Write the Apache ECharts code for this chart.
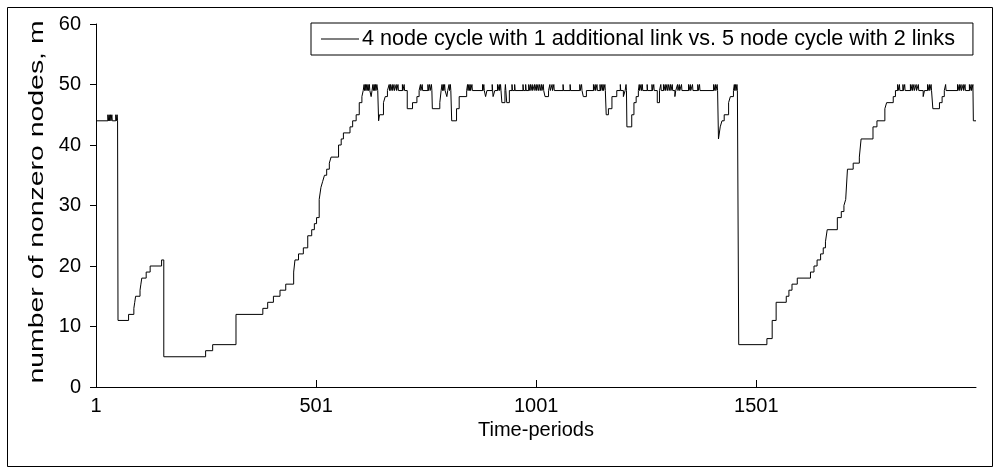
<!DOCTYPE html>
<html>
<head>
<meta charset="utf-8">
<script src="https://cdn.jsdelivr.net/npm/echarts@6/dist/echarts.min.js"></script>
<style>
html,body{margin:0;padding:0;background:#fff;}
#chart{width:996px;height:470px;}
</style>
</head>
<body>
<div id="chart"></div>
<script>
// Step change points [time-period, number of nonzero nodes]
const initialPhase = [[1,44],[28,45],[29,44],[31,45],[32,44],[34,45],[35,44],[37,45],[38,44],[46,45],[47,44],[49,45],[50,44],
  [51,11],[75,12],[87,13],[89,14],[91,15],[101,16],[103,17],[105,18],[115,19],[124,20],[150,21],[155,5],[250,6],[266,7]];
const firstClimb = [[319,12],[380,13],[391,14],[404,15],[419,16],[432,17],[450,19],[453,21],[461,22],[472,23],[482,25],[491,26],
  [497,27],[502,28],[508,31],[512,33],[516,34],[520,35],[525,36],[531,37],[535,38],[552,40],[558,41],[563,42],[578,43],[584,44],
  [592,45],[599,47],[605,48]];
const plateau = [[608,49],[610,50],[611,49],[613,50],[614,49],[616,50],[617,49],[619,50],[620,49],[622,50],[623,49],[626,48],[628,49],
  [630,50],[631,49],[633,50],[634,49],[636,50],[637,49],[639,50],[641,49],
  [643,44],[645,45],[654,47],[658,48],[663,49],
  [667,50],[668,49],[670,50],[671,49],[674,50],[675,49],[678,50],[679,49],[683,50],[684,49],[687,50],[688,49],[697,50],[698,49],[701,50],[702,49],
  [708,46],[720,47],[730,48],[735,49],
  [738,50],[739,49],[742,50],[743,49],[755,50],[756,49],[759,50],[760,49],[763,50],[764,49],
  [765,46],[782,47],[785,49],
  [787,50],[788,49],[790,50],[791,49],[793,50],[794,49],[798,48],[800,49],[803,50],[804,49],[806,50],[807,49],
  [809,44],[820,46],[826,48],[843,49],
  [845,50],[846,49],[848,50],[849,49],[851,50],[852,49],[855,50],[856,49],
  [879,50],[880,49],[882,50],[883,49],[886,48],[889,49],
  [901,50],[902,49],[903,48],[907,49],
  [913,50],[914,49],[917,50],[918,49],[920,50],[921,49],[923,47],[930,49],[931,50],[932,49],[934,47],[940,49],
  [946,50],[947,49],[952,50],[953,49],
  [971,50],[972,49],[977,50],[978,49],[984,50],[985,49],[988,50],[989,49],[992,50],[993,49],[997,50],[998,49],[1001,50],[1002,49],
  [1005,50],[1006,49],[1009,50],[1010,49],[1013,50],[1014,49],[1017,50],[1018,49],[1021,48],[1029,49],
  [1032,50],[1033,49],[1037,50],[1038,49],[1041,50],[1042,49],
  [1062,50],[1063,49],[1078,50],[1079,49],
  [1100,50],[1101,49],[1104,50],[1105,49],[1108,48],[1115,49],
  [1131,50],[1132,49],[1135,50],[1136,49],[1139,50],[1140,49],
  [1146,50],[1147,49],[1150,50],[1151,49],[1153,50],[1154,49],[1157,50],[1158,49],
  [1160,45],[1165,46],[1173,48],[1184,49],[1192,50],[1193,49],[1199,48],[1203,49],[1205,50],[1206,49],
  [1207,43],[1218,45],[1223,47],[1228,48],[1233,49],
  [1235,50],[1236,49],[1239,50],[1240,49],[1242,50],[1243,49],[1253,50],[1254,49],[1264,50],[1265,49],[1268,50],[1269,49],
  [1276,47],[1281,49],
  [1284,50],[1285,49],[1290,50],[1291,49],[1294,50],[1295,49],[1298,50],[1299,49],[1302,50],[1303,49],[1306,50],[1307,49],[1310,50],[1311,49],
  [1316,48],[1318,49],
  [1322,50],[1323,49],[1326,50],[1327,49],[1331,50],[1332,49],
  [1347,50],[1348,49],[1351,50],[1352,49],[1356,50],[1357,49],
  [1368,50],[1369,49],[1372,50],[1373,49],
  [1404,50],[1405,49],[1408,50],[1409,49],[1412,50],[1413,49],
  [1415,41],[1419,43],[1423,44],[1428,45],[1438,47],[1442,48],[1449,49],[1451,50],[1452,49],[1454,50],[1455,49],[1457,50],[1458,49]];
const secondClimb = [[1461,7],[1525,8],[1537,11],[1546,14],[1569,15],[1575,16],[1582,17],[1594,18],[1624,19],[1632,20],[1639,21],
  [1647,22],[1653,23],[1658,24],[1662,26],[1685,28],[1694,29],[1700,30],[1704,31],[1708,36],[1721,37],[1735,38],[1739,41],
  [1766,43],[1775,44],[1793,46],[1797,47],[1812,48],[1817,49]];
const finalPlateau = [[1820,49],[1822,50],[1823,49],[1826,50],[1827,49],[1834,50],[1835,49],[1838,50],[1839,49],[1851,50],[1852,49],
  [1855,50],[1856,49],[1859,50],[1860,49],[1864,50],[1865,49],[1869,50],[1870,49],[1880,48],[1883,49],[1890,50],[1891,49],
  [1894,50],[1895,49],[1898,50],[1899,49],
  [1902,46],[1917,47],[1923,48],[1928,49],[1931,50],[1932,49],[1958,50],[1959,49],[1962,50],[1963,49],[1966,50],[1967,49],
  [1971,50],[1972,49],[1975,50],[1976,49],[1985,50],[1986,49],[1989,50],[1990,49],[1993,50],[1994,44],[2000,44]];

const xTickValues = [1, 501, 1001, 1501];
const seriesName = '4 node cycle with 1 additional link vs. 5 node cycle with 2 links';
const xTitle = 'Time-periods';
const yTitle = 'number of nonzero nodes, m';

const data = [].concat(initialPhase, firstClimb, plateau, secondClimb, finalPlateau);

const FONT = 'Liberation Sans, Arial, sans-serif';
const chart = echarts.init(document.getElementById('chart'), null, {renderer: 'canvas'});
chart.setOption({
  animation: false,
  backgroundColor: '#fff',
  grid: {left: 96, top: 24, right: 20, bottom: 83, containLabel: false, outerBoundsMode: 'none'},
  legend: {
    data: [seriesName],
    left: 311, top: 23,
    padding: [5, 18, 5, 10],
    itemWidth: 38, itemHeight: 1, itemGap: 0,
    borderColor: '#000', borderWidth: 1,
    textStyle: {fontFamily: FONT, fontSize: 21.6, color: '#000', padding: [0, 0, 0, -2]},
    icon: 'rect'
  },
  xAxis: {
    type: 'value', min: 1, max: 2000,
    name: xTitle, nameLocation: 'middle', nameGap: 30,
    nameTextStyle: {fontFamily: FONT, fontSize: 20, color: '#000'},
    axisLine: {show: true, lineStyle: {color: '#000', width: 1}},
    axisTick: {show: true, inside: true, length: 7, customValues: xTickValues, lineStyle: {color: '#000'}},
    axisLabel: {customValues: xTickValues, fontFamily: FONT, fontSize: 20, color: '#000', margin: 9,
      formatter: function (v) { return String(v); }},
    splitLine: {show: false}
  },
  yAxis: {
    type: 'value', min: 0, max: 60, interval: 10,
    axisLine: {show: true, lineStyle: {color: '#000', width: 1}},
    axisTick: {show: true, inside: false, length: 6, lineStyle: {color: '#000'}},
    axisLabel: {fontFamily: FONT, fontSize: 20, color: '#000', margin: 15},
    splitLine: {show: false}
  },
  graphic: [
    {type: 'rect', left: 5, top: 5, shape: {width: 985, height: 459}, style: {fill: 'none', stroke: '#000', lineWidth: 1}, silent: true, z: 100},
    {type: 'text', x: 37, y: 202, rotation: Math.PI / 2, scaleX: 1.42,
     style: {text: yTitle, font: '20px ' + FONT, fill: '#000', align: 'center', verticalAlign: 'middle'}}
  ],
  series: [{
    name: seriesName,
    type: 'line',
    step: 'end',
    symbol: 'none',
    showSymbol: false,
    sampling: 'none',
    data: data,
    lineStyle: {color: '#000', width: 1},
    itemStyle: {color: '#000'}
  }]
});
</script>
</body>
</html>
